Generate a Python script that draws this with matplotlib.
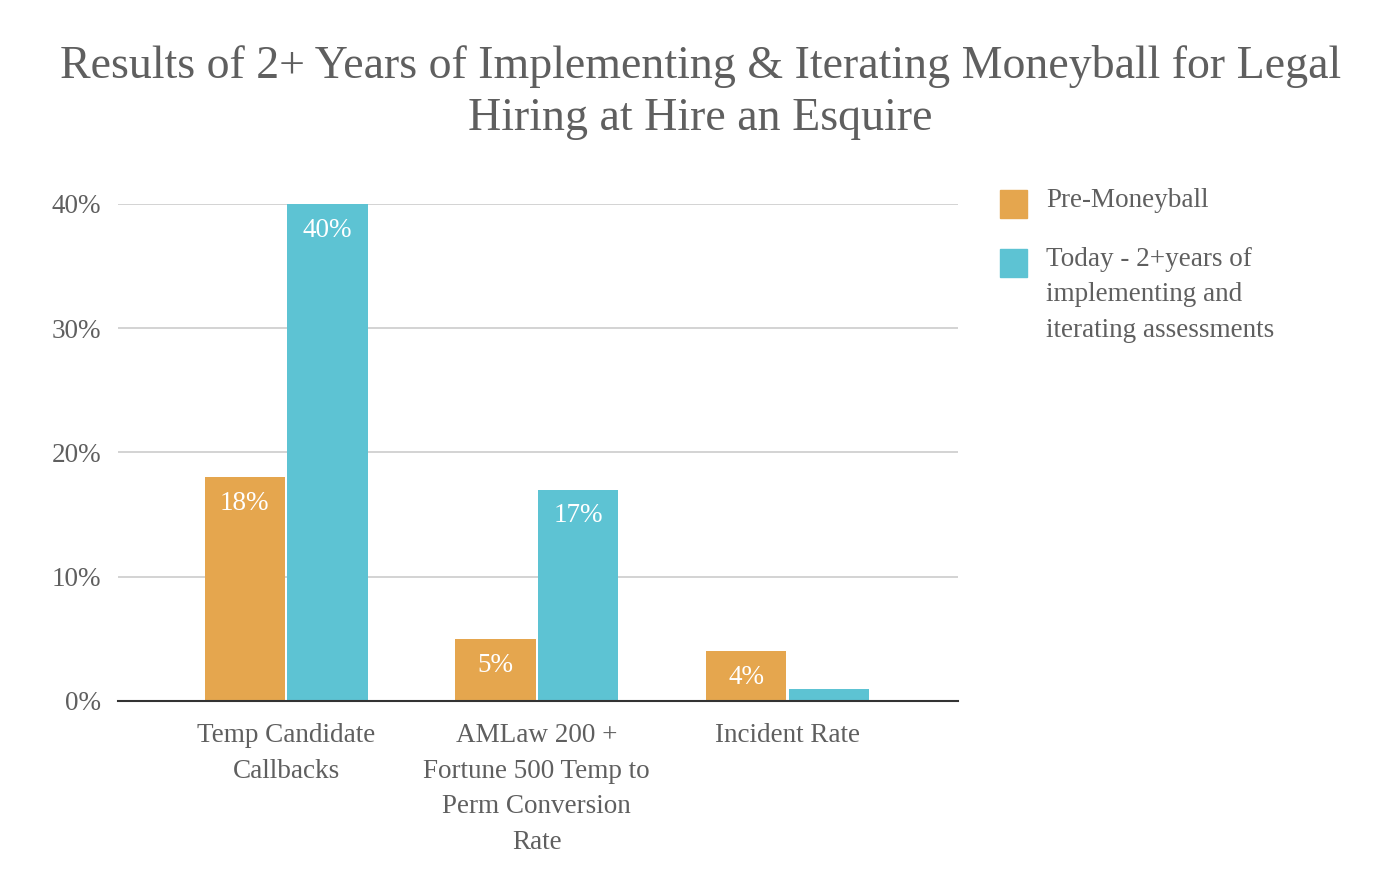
import matplotlib
matplotlib.use('Agg')
import numpy as np
from matplotlib import pyplot as plt
from matplotlib.patches import Rectangle

categories = ['Temp Candidate\nCallbacks', 'AMLaw 200 +\nFortune 500 Temp to\nPerm Conversion\nRate', 'Incident Rate']
pre_values = [18, 5, 4]
today_values = [40, 17, 1]
pre_labels = ['18%', '5%', '4%']
today_labels = ['40%', '17%', '']
series_names = ['Pre-Moneyball', 'Today - 2+years of\nimplementing and\niterating assessments']

ORANGE = '#e5a64e'
TEAL = '#5dc3d3'
GRAY = '#5f5f5f'

plt.rcParams['font.family'] = ['Liberation Serif', 'DejaVu Serif']

fig = plt.figure(figsize=(13.92, 8.9), dpi=100)
ax = fig.add_axes([0.0848, 0.2124, 0.6034, 0.5584])

x = np.arange(len(categories))
w = 0.32
ax.bar(x - 0.165, pre_values, w, color=ORANGE, zorder=3)
ax.bar(x + 0.165, today_values, w, color=TEAL, zorder=3)

for xi, v, lab in zip(x, pre_values, pre_labels):
    ax.text(xi - 0.165, v - 1.1, lab, ha='center', va='top', color='white', fontsize=19.5)
for xi, v, lab in zip(x, today_values, today_labels):
    ax.text(xi + 0.165, v - 1.1, lab, ha='center', va='top', color='white', fontsize=19.5)

ax.set_xlim(-0.67, 2.68)
ax.set_ylim(0, 40)
ax.set_yticks([0, 10, 20, 30, 40])
ax.set_yticklabels(['0%', '10%', '20%', '30%', '40%'])
ax.set_xticks(x)
ax.set_xticklabels(categories)
for t in ax.get_xticklabels():
    t.set_linespacing(1.55)
ax.tick_params(length=0, labelsize=19.5, labelcolor=GRAY)
ax.tick_params(axis='x', pad=16)
ax.tick_params(axis='y', pad=12)
ax.grid(axis='y', color='#cccccc', linewidth=1.2, zorder=0)
for s in ['top', 'right', 'left']:
    ax.spines[s].set_visible(False)
ax.spines['bottom'].set_color('#333333')
ax.spines['bottom'].set_linewidth(1.5)
ax.spines['bottom'].set_zorder(4)

fig.text(0.503, 0.95, 'Results of 2+ Years of Implementing & Iterating Moneyball for Legal\nHiring at Hire an Esquire',
         ha='center', va='top', fontsize=33, color=GRAY, linespacing=1.3)

# legend
for i, (name, col) in enumerate(zip(series_names, [ORANGE, TEAL])):
    ytop = 890 - [190, 249][i]
    fig.patches.append(Rectangle((1000 / 1392, (ytop - 28) / 890), 27 / 1392, 28 / 890,
                                 transform=fig.transFigure, color=col))
    fig.text(1046 / 1392, (ytop + 2) / 890, name, ha='left', va='top', fontsize=19.5,
             color=GRAY, linespacing=1.55)

fig.savefig('out.png', dpi=100)
